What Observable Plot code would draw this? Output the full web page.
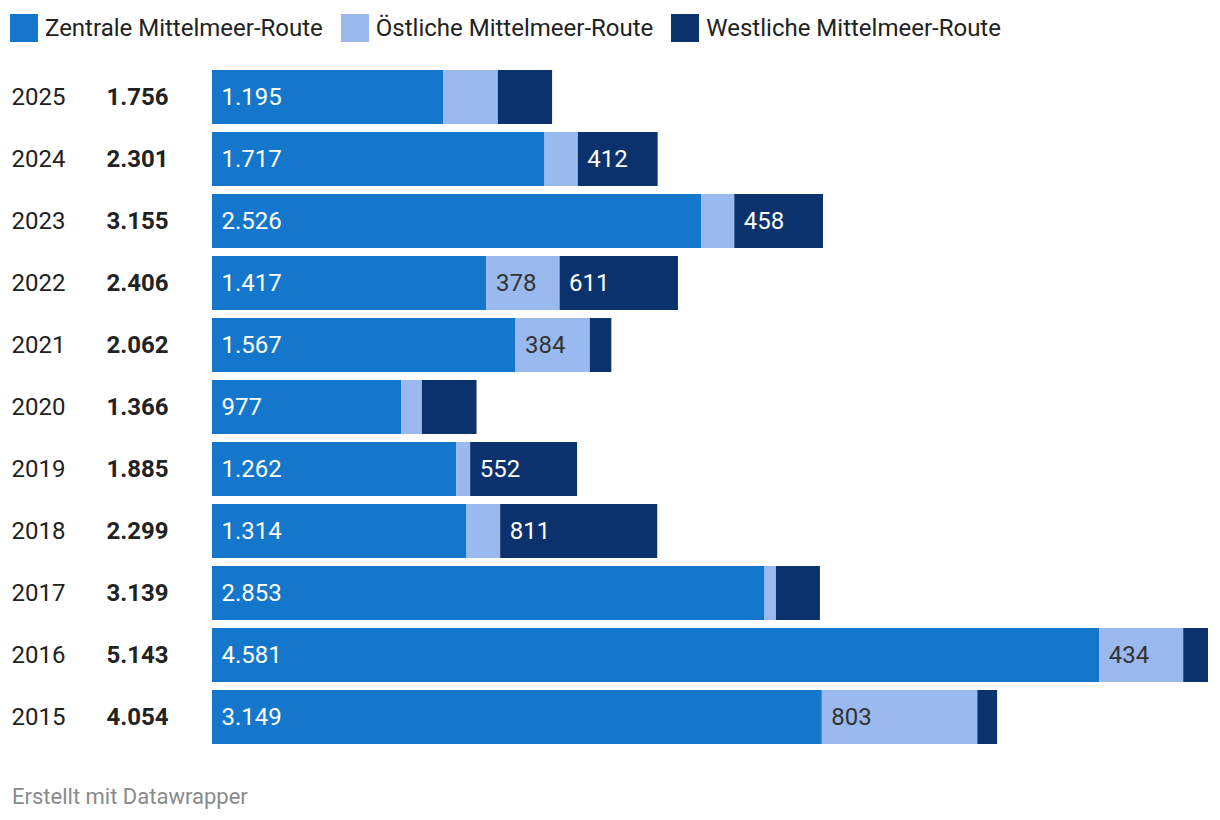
<!DOCTYPE html>
<html>
<head>
<meta charset="utf-8">
<script src="https://cdn.jsdelivr.net/npm/d3@7"></script>
<script src="https://cdn.jsdelivr.net/npm/@observablehq/plot@0.6"></script>
<style>
  html, body { margin: 0; padding: 0; background: #fff; }
  body { width: 1220px; height: 820px; font-family: Roboto, sans-serif; color: #222; position: relative; overflow: hidden; }
  #legend { position: absolute; left: 10px; top: 14px; display: flex; align-items: center; height: 28px; font-size: 24px; }
  .item { display: flex; align-items: center; margin-right: 18px; }
  .sw { width: 28px; height: 28px; margin-right: 7px; }
  #chart { position: absolute; left: 0; top: 56px; }
  #footer { position: absolute; left: 12px; top: 784px; font-size: 22px; color: #8a8a8a; }
</style>
</head>
<body>
<div id="legend"></div>
<div id="chart"></div>
<div id="footer">Erstellt mit Datawrapper</div>
<script>
const years = [2025, 2024, 2023, 2022, 2021, 2020, 2019, 2018, 2017, 2016, 2015];
const totals = [1756, 2301, 3155, 2406, 2062, 1366, 1885, 2299, 3139, 5143, 4054];
const routes = ["Zentrale Mittelmeer-Route", "Östliche Mittelmeer-Route", "Westliche Mittelmeer-Route"];
const colors = ["#1477cb", "#99b9ef", "#0b326d"];
const zentral = [1195, 1717, 2526, 1417, 1567, 977, 1262, 1314, 2853, 4581, 3149];
const oestlich = [281, 172, 171, 378, 384, 107, 71, 174, 59, 434, 803];
const westlich = [280, 412, 458, 611, 111, 282, 552, 811, 227, 128, 102];

const de = d3.formatLocale({decimal: ",", thousands: ".", grouping: [3], currency: ["", " €"]});
const fmt = de.format(",d");

const series = [zentral, oestlich, westlich];
const rows = [];
years.forEach((y, i) => {
  routes.forEach((r, j) => rows.push({year: y, route: r, value: series[j][i]}));
});
const totalRows = years.map((y, i) => ({year: y, total: totals[i]}));

// legend
const legend = document.getElementById("legend");
routes.forEach((r, j) => {
  const it = document.createElement("div");
  it.className = "item";
  it.innerHTML = `<div class="sw" style="background:${colors[j]}"></div><span>${r}</span>`;
  legend.appendChild(it);
});

const minLabel = 300;
const chart = Plot.plot({
  width: 1220,
  height: 700,
  marginLeft: 212,
  marginRight: 12,
  marginTop: 10,
  marginBottom: 8,
  style: {fontFamily: "Roboto, sans-serif", fontSize: "24px", background: "white"},
  x: {domain: [0, 5143], axis: null},
  y: {domain: years, axis: null, paddingInner: 8 / 62, paddingOuter: 4 / 62, round: false},
  color: {domain: routes, range: colors},
  marks: [
    Plot.barX(rows, Plot.stackX({x: "value", y: "year", fill: "route", z: "route"})),
    Plot.text(rows, Plot.stackX1({
      x: "value", y: "year", z: "route",
      text: d => (d.route !== routes[1] && d.value >= minLabel) ? fmt(d.value) : "",
      textAnchor: "start", dx: 9, fill: "white"
    })),
    Plot.text(rows, Plot.stackX1({
      x: "value", y: "year", z: "route",
      text: d => (d.route === routes[1] && d.value >= minLabel) ? fmt(d.value) : "",
      textAnchor: "start", dx: 9, fill: "#333"
    })),
    Plot.text(totalRows, {y: "year", text: d => String(d.year), frameAnchor: "left", textAnchor: "start", dx: -201, fill: "#222"}),
    Plot.text(totalRows, {y: "year", text: d => fmt(d.total), frameAnchor: "left", textAnchor: "start", dx: -106, fill: "#222", fontWeight: "bold"})
  ]
});
document.getElementById("chart").appendChild(chart);
</script>
</body>
</html>
